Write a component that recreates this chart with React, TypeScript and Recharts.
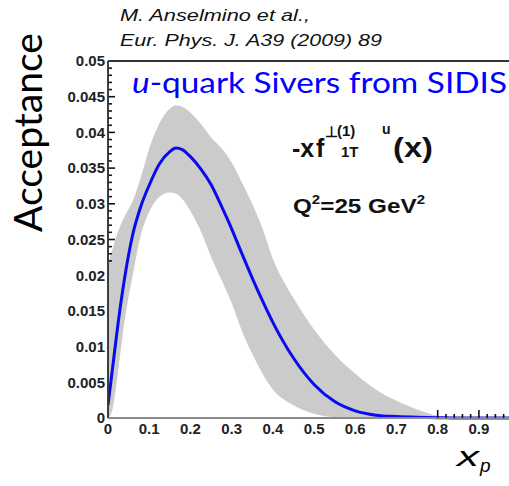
import React from 'react';
import { Area, ComposedChart, Line, ReferenceLine, XAxis, YAxis } from 'recharts';

// x grid shared by the curve and the band
const xs = [0, 0.01, 0.025, 0.04, 0.06, 0.08, 0.1, 0.125, 0.15, 0.165, 0.18, 0.2, 0.225, 0.25, 0.275, 0.3, 0.325, 0.35, 0.375, 0.4, 0.45, 0.5, 0.55, 0.6, 0.65, 0.7, 0.75, 0.8, 0.85, 0.9, 0.95, 1.0];
// central fit
const mid = [0.0018, 0.0065, 0.0135, 0.0195, 0.0257, 0.0297, 0.0326, 0.0356, 0.0373, 0.0378, 0.0376, 0.0366, 0.0349, 0.0327, 0.0297, 0.0265, 0.023, 0.0196, 0.0164, 0.0134, 0.0084, 0.0047, 0.0023, 0.001, 0.0004, 0.0002, 0.0001, 0.00005, 0, 0, 0, 0];
// error band
const hi = [0.0215, 0.0235, 0.0262, 0.0282, 0.0304, 0.0338, 0.0377, 0.0413, 0.0433, 0.0438, 0.0436, 0.0428, 0.0412, 0.0393, 0.0378, 0.0358, 0.033, 0.03, 0.0265, 0.0223, 0.0168, 0.0124, 0.0089, 0.0062, 0.004, 0.0024, 0.0012, 0.0003, 0, 0, 0, 0];
const lo = [0, 0.001, 0.0068, 0.0135, 0.02, 0.0257, 0.0289, 0.031, 0.0316, 0.0314, 0.0307, 0.029, 0.0262, 0.0226, 0.0194, 0.0161, 0.0122, 0.009, 0.0062, 0.004, 0.0018, 0.0006, 0.0001, 0, 0, 0, 0, 0, 0, 0, 0, 0];

const xMajor = [0, 0.1, 0.2, 0.3, 0.4, 0.5, 0.6, 0.7, 0.8, 0.9];
const xMinor = [0.82, 0.84, 0.86, 0.88, 0.92, 0.94, 0.96];
const yMajor = [0, 0.005, 0.01, 0.015, 0.02, 0.025, 0.03, 0.035, 0.04, 0.045, 0.05];
const yMinor = [0.022, 0.023, 0.024, 0.026, 0.027, 0.028, 0.029, 0.031, 0.032, 0.033, 0.034, 0.036, 0.037, 0.038, 0.039, 0.041, 0.042, 0.043, 0.044, 0.046, 0.047, 0.048, 0.049];

const data = xs.map((x, i) => ({ x, mid: mid[i], band: [lo[i], hi[i]] }));

const tickFont = { fontFamily: 'Liberation Sans, Arial, sans-serif', fontWeight: 700, fontSize: 15, fill: '#222' };

function XTick(props: any) {
  const { x, y, payload } = props;
  const v = Number(payload.value);
  const axisY = y - 5;
  const major = xMajor.includes(v);
  return (
    <g>
      {v >= 0.8 && <line x1={x} x2={x} y1={axisY} y2={axisY - (major ? 8 : 4)} stroke="#111" strokeWidth={1.6} />}
      {major && (
        <text x={x} y={y} dy="0.71em" textAnchor="middle" {...tickFont}>
          {String(v)}
        </text>
      )}
    </g>
  );
}

export default function App() {
  // inward ticks on the left frame (length in x units)
  const yTickMarks = [
    ...yMajor.filter((v) => v >= 0.025).map((v) => ({ v, len: 0.017 })),
    ...yMinor.map((v) => ({ v, len: 0.0095 })),
  ];
  return (
    <div style={{ position: 'absolute', left: 0, top: 0, width: 509, height: 486, background: '#fff' }}>
      <ComposedChart width={509} height={486} data={data} margin={{ top: 61, right: 0, bottom: 48, left: 0 }}>
        <XAxis
          xAxisId="x"
          type="number"
          dataKey="x"
          domain={[0, 0.973]}
          allowDataOverflow
          ticks={[...xMajor, ...xMinor]}
          interval={0}
          height={20}
          tickSize={0}
          tickMargin={5}
          tickLine={false}
          tick={<XTick />}
          axisLine={{ stroke: '#8a8a8a', strokeWidth: 2 }}
        />
        <YAxis
          yAxisId="y"
          type="number"
          domain={[0, 0.05]}
          ticks={yMajor}
          interval={0}
          width={108}
          tickSize={0}
          tickMargin={3}
          tickLine={false}
          tick={tickFont}
          tickFormatter={(v: number) => String(v)}
          axisLine={{ stroke: '#333', strokeWidth: 1.5 }}
        />
        <Area
          xAxisId="x"
          yAxisId="y"
          type="monotone"
          dataKey="band"
          fill="#cbcbcb"
          fillOpacity={1}
          stroke="none"
          isAnimationActive={false}
        />
        <Line
          xAxisId="x"
          yAxisId="y"
          type="monotone"
          dataKey="mid"
          stroke="#0a0af0"
          strokeWidth={3}
          dot={false}
          isAnimationActive={false}
        />
        {yTickMarks.map((t) => (
          <ReferenceLine
            key={t.v}
            xAxisId="x"
            yAxisId="y"
            segment={[{ x: 0, y: t.v }, { x: t.len, y: t.v }]}
            stroke="#111"
            strokeWidth={1.6}
          />
        ))}
        <ReferenceLine xAxisId="x" yAxisId="y" x={0} stroke="#333" strokeWidth={1.5} />
        <ReferenceLine xAxisId="x" yAxisId="y" y={0.05} stroke="#333" strokeWidth={2} />
      </ComposedChart>

      <svg width={509} height={486} style={{ position: 'absolute', left: 0, top: 0, pointerEvents: 'none' }}>
        <g fontFamily="Liberation Sans, Arial, sans-serif" fontStyle="italic" fontSize={17} fill="#111">
          <text x={120} y={21} textLength={190} lengthAdjust="spacingAndGlyphs">M. Anselmino et al.,</text>
          <text x={120} y={46} textLength={262} lengthAdjust="spacingAndGlyphs">Eur. Phys. J. A39 (2009) 89</text>
        </g>
        <text transform="translate(42,232) rotate(-90)" fontFamily="Lato, sans-serif" fontSize={38} fill="#000" textLength={199} lengthAdjust="spacingAndGlyphs">
          Acceptance
        </text>
        <text x={132} y={93} fontFamily="Lato, sans-serif" fontSize={28} fill="#0000ff" textLength={375} lengthAdjust="spacingAndGlyphs">
          <tspan fontStyle="italic">u</tspan>-quark Sivers from SIDIS
        </text>
        <g fontFamily="Liberation Sans, Arial, sans-serif" fontWeight={700} fill="#111">
          <text x={292} y={157} fontSize={25}>-x</text>
          <text x={316} y={157} fontSize={25}>f</text>
          <text x={325} y={137} fontSize={15}>⊥</text>
          <text x={337} y={136} fontSize={15}>(1)</text>
          <text x={382} y={134} fontSize={14}>u</text>
          <text x={341} y={157} fontSize={15}>1T</text>
          <text x={393} y={157} fontSize={28} textLength={40} lengthAdjust="spacingAndGlyphs">(x)</text>
          <text x={293} y={213} fontSize={21} textLength={132} lengthAdjust="spacingAndGlyphs">
            Q<tspan dy={-9} fontSize={13}>2</tspan>
            <tspan dy={9}>=25 GeV</tspan>
            <tspan dy={-9} fontSize={13}>2</tspan>
          </text>
        </g>
        <g fontFamily="Liberation Sans, Arial, sans-serif" fontStyle="italic" fill="#000">
          <text x={457} y={466} fontSize={28} textLength={22} lengthAdjust="spacingAndGlyphs">x</text>
          <text x={480} y={472} fontSize={19}>p</text>
        </g>
      </svg>
    </div>
  );
}
